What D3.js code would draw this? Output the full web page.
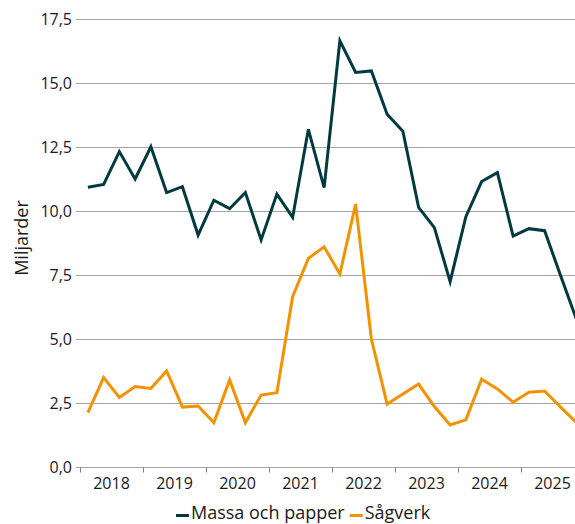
<!DOCTYPE html>
<html>
<head>
<meta charset="utf-8">
<script src="https://cdn.jsdelivr.net/npm/d3@7"></script>
<style>
    body { margin: 0; background: #fff; }
    #graph { width: 575px; height: 524px; }
    text { font-family: "Open Sans", sans-serif; fill: #1a1a1a; }
</style>
</head>
<body>
<div id="graph"></div>
<script>

// chart data
var years = ["2018", "2019", "2020", "2021", "2022", "2023", "2024", "2025"];
var quarters = ["K1", "K2", "K3", "K4"];

var massaPapper = [
    10.93, 11.04, 12.32, 11.25,
    12.51, 10.72, 10.95, 9.06,
    10.42, 10.09, 10.72, 8.87,
    10.66, 9.75, 13.19, 10.91,
    16.65, 15.41, 15.47, 13.78,
    13.12, 10.14, 9.35, 7.24,
    9.78, 11.15, 11.50, 9.02,
    9.31, 9.23, 7.50, 5.80
];

var sagverk = [
    2.12, 3.49, 2.72, 3.14,
    3.07, 3.75, 2.34, 2.38,
    1.73, 3.40, 1.73, 2.81,
    2.90, 6.65, 8.15, 8.60,
    7.54, 10.27, 5.00, 2.46,
    2.85, 3.24, 2.36, 1.64,
    1.84, 3.43, 3.05, 2.53,
    2.92, 2.97, 2.35, 1.75
];

var yTicks = [0, 2.5, 5, 7.5, 10, 12.5, 15, 17.5];

var seriesNames = ["Massa och papper", "Sågverk"];
var seriesColors = ["#003a41", "#f39200"];

// init size
var graphWidth = 575;
var graphHeight = 524;
var margin = {left: 80, top: 19, bottom: 57};
var plotRight = 584;

// quarter keys
var periods = [];
years.forEach(function(y) {
    quarters.forEach(function(q) { periods.push(y + q); });
});

// init scales
var xScale = d3.scaleBand()
    .domain(periods)
    .range([margin.left, plotRight]);

var yearScale = d3.scaleBand()
    .domain(years)
    .range([margin.left, plotRight]);

var yScale = d3.scaleLinear()
    .domain([0, 17.5])
    .range([graphHeight - margin.bottom, margin.top]);

// init svg
var svg = d3.select("#graph")
    .append("svg")
    .attr("width", graphWidth)
    .attr("height", graphHeight);

// grid lines
svg.append("g")
    .attr("class", "grid")
    .selectAll("line")
    .data(yTicks.filter(d => d > 0))
    .enter().append("line")
    .attr("x1", margin.left - 4)
    .attr("x2", graphWidth)
    .attr("y1", d => Math.round(yScale(d)) + 0.5)
    .attr("y2", d => Math.round(yScale(d)) + 0.5)
    .attr("stroke", "#a6a6a6")
    .attr("stroke-width", 1);

// y axis labels
svg.append("g")
    .attr("class", "y-labels")
    .selectAll("text")
    .data(yTicks)
    .enter().append("text")
    .attr("x", margin.left - 8)
    .attr("y", d => yScale(d))
    .attr("dy", "0.35em")
    .attr("text-anchor", "end")
    .attr("font-size", 16)
    .text(d => d3.format(".1f")(d).replace(".", ","));

// x axis
var xAxis = svg.append("g")
    .attr("transform", "translate(0," + (Math.round(yScale(0)) + 0.5) + ")");

xAxis.append("line")
    .attr("x1", margin.left - 4)
    .attr("x2", graphWidth)
    .attr("stroke", "#a6a6a6");

xAxis.selectAll("line.tick")
    .data(years)
    .enter().append("line")
    .attr("class", "tick")
    .attr("x1", d => Math.round(yearScale(d)) + 0.5)
    .attr("x2", d => Math.round(yearScale(d)) + 0.5)
    .attr("y1", 0)
    .attr("y2", 5)
    .attr("stroke", "#808080");

xAxis.selectAll("text")
    .data(years)
    .enter().append("text")
    .attr("x", d => yearScale(d) + yearScale.bandwidth() / 2)
    .attr("y", 21)
    .attr("text-anchor", "middle")
    .attr("font-size", 16)
    .text(d => d);

// y axis title
svg.append("text")
    .attr("transform", "translate(28,238) rotate(-90)")
    .attr("text-anchor", "middle")
    .attr("font-size", 18)
    .text("Miljarder");

// lines
var line = d3.line()
    .x((d, i) => xScale(periods[i]) + xScale.bandwidth() / 2)
    .y(d => yScale(d));

[massaPapper, sagverk].forEach(function(values, i) {
    svg.append("path")
        .datum(values)
        .attr("fill", "none")
        .attr("stroke", seriesColors[i])
        .attr("stroke-width", 3)
        .attr("stroke-linejoin", "miter")
        .attr("d", line);
});

// legend
var legend = svg.append("g")
    .attr("class", "legend")
    .attr("transform", "translate(0,519)");

var legendX = 176;
seriesNames.forEach(function(name, i) {
    var item = legend.append("g")
        .attr("transform", "translate(" + legendX + ",0)");

    item.append("line")
        .attr("x1", 0)
        .attr("x2", 13)
        .attr("y1", -3.5)
        .attr("y2", -3.5)
        .attr("stroke", seriesColors[i])
        .attr("stroke-width", 3);

    var label = item.append("text")
        .attr("x", 15)
        .attr("font-size", 18)
        .text(name);

    legendX += 15 + label.node().getComputedTextLength() + 5;
});

</script>
</body>
</html>
